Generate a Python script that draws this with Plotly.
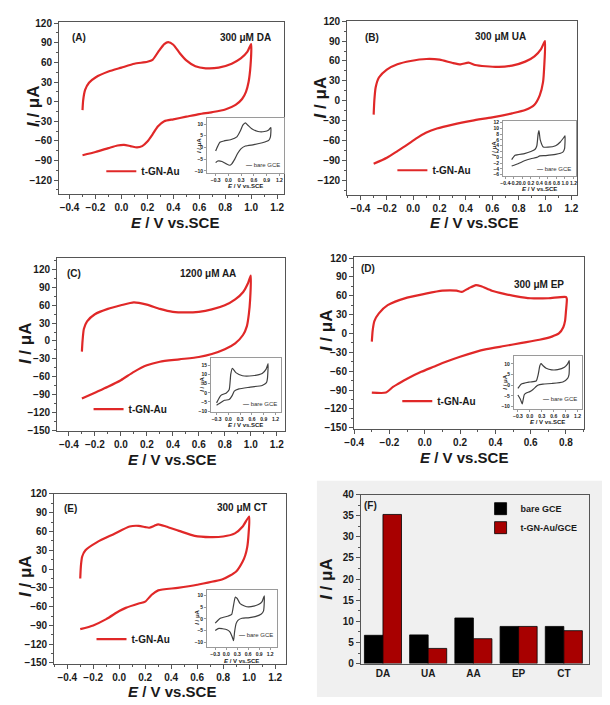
import plotly.graph_objects as go

PAGE_W, PAGE_H = 610, 705
OFF = 8                      # default body margin of the html page
W, H = PAGE_W - OFF, PAGE_H - OFF
FONT = "Liberation Sans"
RED = "#e02828"
GREY = "#404040"
FRAME = "#555555"

# ---------------- data ----------------
# (A) 300 uM DA, t-GN-Au
DA_E = [-0.3, -0.295, -0.28, -0.25, -0.2, -0.1, 0.0, 0.1, 0.2, 0.24, 0.29, 0.33, 0.36, 0.4, 0.45, 0.5, 0.57, 0.65, 0.75, 0.85, 0.92, 0.97, 1.0,
        0.995, 0.98, 0.96, 0.93, 0.88, 0.8, 0.7, 0.6, 0.5, 0.4, 0.33, 0.28, 0.24, 0.2, 0.16, 0.12, 0.07, 0.02, -0.03, -0.1, -0.2, -0.3]
DA_I = [-13, 2, 18, 29, 37, 46, 52, 58, 61, 64, 78, 88, 91, 87, 74, 63, 54, 51, 52, 58, 66, 76, 88,
        55, 30, 15, 4, -5, -12, -16, -19, -23, -27, -30, -38, -50, -61, -68, -70, -68, -66, -67, -71, -77, -82]
# (A) inset, bare GCE
DA_bare_E = [-0.3, -0.2, -0.1, 0.05, 0.2, 0.28, 0.34, 0.4, 0.46, 0.55, 0.7, 0.85, 0.95, 1.0,
             0.99, 0.95, 0.8, 0.6, 0.4, 0.3, 0.22, 0.15, 0.08, 0.03, -0.05, -0.15, -0.25, -0.3]
DA_bare_I = [-1.5, 2.2, 2.8, 3.3, 4.5, 7, 9.5, 10.5, 9.5, 8, 6.8, 6.8, 7.5, 8.5,
             4.5, 3, 2, 1.2, 0.6, -0.5, -2.5, -5, -7, -7.6, -7, -6, -5.8, -6.5]

# (B) 300 uM UA
UA_E = [-0.3, -0.295, -0.285, -0.26, -0.2, -0.12, -0.02, 0.1, 0.2, 0.3, 0.36, 0.42, 0.47, 0.55, 0.65, 0.75, 0.85, 0.92, 0.97, 1.0,
        0.995, 0.985, 0.96, 0.92, 0.85, 0.75, 0.6, 0.45, 0.3, 0.18, 0.1, 0.03, -0.05, -0.12, -0.2, -0.3]
UA_I = [-21, 0, 20, 35, 47, 55, 60, 63, 62, 57, 55, 57.5, 54, 52, 51, 53, 59, 67, 78, 90,
        55, 28, 8, -6, -14, -19, -25, -30, -36, -42, -48, -56, -67, -76, -86, -95]
UA_bare_E = [-0.25, -0.17, 0.05, 0.2, 0.3, 0.34, 0.37, 0.39, 0.42, 0.49, 0.6, 0.78, 0.89, 0.98, 1.0,
             0.99, 0.95, 0.78, 0.55, 0.41, 0.34, 0.2, 0.05, -0.1, -0.25]
UA_bare_I = [-0.8, 0.7, 1.3, 2.0, 2.8, 4, 8, 9.2, 6, 3.6, 3.5, 4, 5.3, 7, 7.4,
             3, 1.8, 1, 0.6, 0.5, 0, -0.5, -1.2, -2.2, -3]

# (C) 1200 uM AA
AA_E = [-0.3, -0.295, -0.285, -0.26, -0.2, -0.1, 0.0, 0.1, 0.2, 0.3, 0.4, 0.5, 0.6, 0.7, 0.8, 0.88, 0.94, 0.98, 1.0,
        0.995, 0.985, 0.97, 0.94, 0.88, 0.8, 0.7, 0.6, 0.45, 0.3, 0.2, 0.1, 0.0, -0.1, -0.2, -0.3]
AA_I = [-18, 0, 20, 33, 45, 54, 60, 65, 61, 54, 49, 48, 49, 53, 60, 70, 82, 98, 110,
        70, 45, 25, 10, -4, -14, -22, -27, -31, -35, -41, -52, -66, -77, -87, -97]
AA_bare_E = [-0.3, -0.19, -0.06, 0.02, 0.06, 0.1, 0.19, 0.36, 0.61, 0.86, 0.96, 1.01,
             0.995, 0.97, 0.86, 0.53, 0.27, 0.15, 0.1, 0.02, -0.1, -0.23, -0.3]
AA_bare_I = [-5.5, -1.4, -0.2, 1.6, 10, 13.4, 11, 9.3, 9.3, 10.5, 12.9, 15.9,
             8, 5.5, 4, 3, 2.1, 0.9, -1.4, -3.7, -4.1, -5.9, -6.8]

# (D) 300 uM EP
EP_E = [-0.3, -0.295, -0.285, -0.26, -0.21, -0.1, 0.0, 0.1, 0.18, 0.21, 0.25, 0.29, 0.32, 0.38, 0.45, 0.52, 0.6, 0.7, 0.8,
        0.805, 0.8, 0.795, 0.785, 0.76, 0.72, 0.65, 0.55, 0.45, 0.35, 0.28, 0.2, 0.12, 0.05, -0.02, -0.1, -0.15, -0.18, -0.22, -0.3]
EP_I = [-13, 5, 20, 32, 45, 57, 63, 68, 68, 66, 72, 77, 75, 68, 63, 59, 56, 56, 58,
        55, 35, 20, 10, 0, -5, -10, -15, -20, -25, -30, -37, -45, -53, -61, -72, -80, -85, -94, -94]
EP_bare_E = [-0.3, -0.22, 0.0, 0.16, 0.21, 0.25, 0.28, 0.34, 0.41, 0.55, 0.7, 0.87, 0.95, 0.99,
             0.985, 0.95, 0.83, 0.55, 0.33, 0.2, 0.16, 0.08, 0.0, -0.09, -0.14, -0.17, -0.19, -0.24, -0.3]
EP_bare_I = [-1.5, 0.5, 1.5, 2, 5, 9, 10.2, 9, 8, 7.2, 7.3, 8.4, 10, 11.5,
             5, 3.2, 1.5, 0.8, 0.5, 0, -0.6, -2, -3, -3.7, -4.5, -7, -8.8, -6.5, -4.6]

# (E) 300 uM CT
CT_E = [-0.3, -0.295, -0.285, -0.26, -0.17, -0.04, 0.08, 0.15, 0.2, 0.23, 0.27, 0.3, 0.36, 0.46, 0.58, 0.7, 0.8, 0.89, 0.95, 1.0,
        0.995, 0.985, 0.97, 0.95, 0.9, 0.8, 0.6, 0.45, 0.3, 0.25, 0.2, 0.15, 0.05, 0.0, -0.1, -0.2, -0.3]
CT_I = [-15, 5, 20, 30, 43, 56, 68, 69, 67, 66, 69, 71.5, 68, 61, 53, 51, 52, 57, 68, 84,
        55, 35, 22, 12, -4, -16, -25, -30, -34, -41, -52, -55, -62, -67, -80, -90, -96]
CT_bare_E = [-0.3, -0.16, 0.06, 0.15, 0.2, 0.25, 0.3, 0.38, 0.5, 0.61, 0.75, 0.88, 0.98, 1.04,
             1.02, 0.95, 0.79, 0.6, 0.43, 0.32, 0.27, 0.23, 0.2, 0.16, 0.1, 0.02, -0.1, -0.2, -0.3]
CT_bare_I = [-1.8, 0.3, 1.3, 2, 5.9, 9.4, 8.8, 6.6, 5.6, 5.2, 5.5, 6.2, 7.5, 10,
             3.5, 2, 1, 0.5, 0.3, -0.6, -2, -5.4, -9.3, -7.5, -5.5, -4.6, -4.2, -4, -4.9]

# (F) peak currents
analytes = ["DA", "UA", "AA", "EP", "CT"]
bare_peak = [6.7, 6.8, 10.8, 8.8, 8.8]
tgn_peak = [35.3, 3.6, 5.9, 8.8, 7.8]

panel_labels = ["(A)", "(B)", "(C)", "(D)", "(E)", "(F)"]
conc_labels = ["300 μM DA", "300 μM UA", "1200 μM AA", "300 μM EP", "300 μM CT"]
series_main = "t-GN-Au"
series_bare = "bare GCE"
bar_names = ["bare GCE", "t-GN-Au/GCE"]

# ---------------- layout helpers (page pixels -> paper fractions) ----------------
def fx(p):
    return (p - OFF) / W

def fy(p):
    return 1 - (p - OFF) / H

main_specs = [
    dict(E=DA_E, I=DA_I, box=(50, 279, 16, 191), xr=[-0.48, 1.25], yr=[-141, 122], yt=(-120, 120),
         leg=(93, 168), lab=(70, 32), conc=(240, 32), xt=(168, 220), ytl=(24, 102)),
    dict(E=UA_E, I=UA_I, box=(344, 578, 15, 192), xr=[-0.5, 1.24], yr=[-142, 120.5], yt=(-120, 120),
         leg=(390, 167), lab=(369, 32), conc=(500, 31), xt=(473, 220), ytl=(317, 93)),
    dict(E=AA_E, I=AA_I, box=(48, 280, 256, 432), xr=[-0.49, 1.26], yr=[-151, 140], yt=(-150, 120),
         leg=(80, 410), lab=(65, 272), conc=(202, 272), xt=(165, 461), ytl=(15, 343)),
    dict(E=EP_E, I=EP_I, box=(351, 586, 255, 430), xr=[-0.4, 0.905], yr=[-151.5, 122], yt=(-150, 120),
         leg=(395, 402), lab=(365, 267), conc=(540, 283), xt=(463, 459), ytl=(323, 330)),
    dict(E=CT_E, I=CT_I, box=(45, 281, 496, 669), xr=[-0.5, 1.28], yr=[-151, 120.5], yt=(-150, 120),
         leg=(83, 644), lab=(62, 511), conc=(237, 510), xt=(165, 697), ytl=(15, 580)),
]

inset_specs = [
    dict(E=DA_bare_E, I=DA_bare_I, box=(201, 279, 114, 170), xr=[-0.5, 1.3], yr=[-11, 12.5], xd=0.3, x0=-0.3, yd=5,
         leg=(277, 162), xt=(240, 183), ytl=(192, 142)),
    dict(E=UA_bare_E, I=UA_bare_I, box=(503, 577, 117, 173), xr=[-0.45, 1.25], yr=[-6.5, 12.5], xd=0.2, x0=-0.4, yd=2,
         leg=(574, 166), xt=(540, 186), ytl=(493, 145)),
    dict(E=AA_bare_E, I=AA_bare_I, box=(205, 276, 358, 413), xr=[-0.44, 1.33], yr=[-10.5, 19], xd=0.3, x0=-0.3, yd=5,
         leg=(274, 405), xt=(240, 426), ytl=(195, 385)),
    dict(E=EP_bare_E, I=EP_bare_I, box=(514, 583, 356, 410), xr=[-0.4, 1.3], yr=[-11.2, 13.7], xd=0.3, x0=-0.3, yd=5,
         leg=(580, 400), xt=(548, 423), ytl=(504, 383)),
    dict(E=CT_bare_E, I=CT_bare_I, box=(201, 272, 594, 652), xr=[-0.52, 1.38], yr=[-12, 12.5], xd=0.3, x0=-0.3, yd=5,
         leg=(270, 640), xt=(236, 666), ytl=(191, 622)),
]

fig = go.Figure()
layout = dict(
    width=W, height=H, margin=dict(l=0, r=0, t=0, b=0),
    paper_bgcolor="white", plot_bgcolor="rgba(255,255,255,0)",
    font=dict(family=FONT, color="#1a1a1a"),
    showlegend=True,
)
annotations = []
shapes = []

# grey background behind panel F
shapes.append(dict(type="rect", xref="paper", yref="paper", x0=fx(313), x1=fx(609), y0=fy(703), y1=fy(483),
                   fillcolor="#f0f0f0", line=dict(width=0), layer="below"))


def axis_common(size, ticklen, color=FRAME, lw=1.3):
    return dict(showline=True, linecolor=color, linewidth=lw, mirror=True, ticks="outside",
                ticklen=ticklen, tickwidth=1, tickcolor=color, showgrid=False, zeroline=False,
                tickangle=0,
                tickfont=dict(size=size, weight="bold", family=FONT, color="#1a1a1a"))


def text_ann(text, pos, size, angle=0, xanchor="center", color=None):
    f = dict(size=size)
    if color:
        f["color"] = color
    return dict(text=text, x=fx(pos[0]), y=fy(pos[1]), xref="paper", yref="paper", showarrow=False,
                xanchor=xanchor, yanchor="middle", textangle=angle, font=f)


for k, s in enumerate(main_specs):
    n = k + 1
    xa = "xaxis" if n == 1 else f"xaxis{n}"
    ya = "yaxis" if n == 1 else f"yaxis{n}"
    xr_ = "x" if n == 1 else f"x{n}"
    yr_ = "y" if n == 1 else f"y{n}"
    x0, x1, y0, y1 = s["box"]
    layout[xa] = dict(domain=[fx(x0), fx(x1)], range=s["xr"], anchor=yr_, tick0=-0.4, dtick=0.2, tickformat=".1f",
                      minor=dict(ticks="outside", ticklen=2, dtick=0.1, tick0=-0.4, tickcolor=FRAME, showgrid=False),
                      **axis_common(10, 4))
    layout[ya] = dict(domain=[fy(y1), fy(y0)], range=s["yr"], anchor=xr_,
                      tickvals=list(range(s["yt"][0], s["yt"][1] + 1, 30)),
                      minor=dict(ticks="outside", ticklen=2, dtick=15, tick0=0, tickcolor=FRAME, showgrid=False),
                      **axis_common(10, 4))
    lg = "legend" if n == 1 else f"legend{n}"
    fig.add_trace(go.Scatter(x=s["E"], y=s["I"], mode="lines", name=series_main, xaxis=xr_, yaxis=yr_,
                             line=dict(color=RED, width=2.2, shape="spline", smoothing=0.6), legend=lg))
    layout[lg] = dict(x=fx(s["leg"][0]), y=fy(s["leg"][1]), xanchor="left", yanchor="middle",
                      bgcolor="rgba(0,0,0,0)", font=dict(size=10, weight="bold", family=FONT),
                      itemwidth=30, tracegroupgap=0)
    annotations.append(text_ann(f"<b>{panel_labels[k]}</b>", s["lab"], 10))
    annotations.append(text_ann(f"<b>{conc_labels[k]}</b>", s["conc"], 10))
    annotations.append(text_ann("<b><i>E</i> / V vs.SCE</b>", s["xt"], 15))
    annotations.append(text_ann("<b><i>I</i> / μA</b>", s["ytl"], 17, angle=-90))

# panel F (bars)
fx6 = axis_common(10, 4)
fx6["ticks"] = ""
layout["xaxis6"] = dict(domain=[fx(358), fx(591)], range=[-0.485, 4.565], anchor="y6", type="category", **fx6)
layout["yaxis6"] = dict(domain=[fy(669), fy(497)], range=[0, 40], anchor="x6", tick0=0, dtick=5,
                        minor=dict(ticks="outside", ticklen=2, dtick=2.5, tickcolor=FRAME, showgrid=False),
                        **axis_common(10, 4))
fig.add_trace(go.Bar(x=analytes, y=bare_peak, name=bar_names[0], xaxis="x6", yaxis="y6", legend="legend6",
                     marker=dict(color="#000000", line=dict(color="#000000", width=0.8))))
fig.add_trace(go.Bar(x=analytes, y=tgn_peak, name=bar_names[1], xaxis="x6", yaxis="y6", legend="legend6",
                     marker=dict(color="#a80000", line=dict(color="#000000", width=0.8))))
layout["barmode"] = "group"
layout["bargap"] = 0.18
layout["bargroupgap"] = 0
layout["legend6"] = dict(x=fx(480), y=fy(521), xanchor="left", yanchor="middle", bgcolor="rgba(0,0,0,0)",
                         font=dict(size=9, weight="bold", family=FONT), itemwidth=30, tracegroupgap=0)
annotations.append(text_ann(f"<b>{panel_labels[5]}</b>", (368, 508), 10))
annotations.append(text_ann("<b><i>I</i> / μA</b>", (322, 583), 17, angle=-90))

# insets
for k, s in enumerate(inset_specs):
    n = k + 7
    x0, x1, y0, y1 = s["box"]
    shapes.append(dict(type="rect", xref="paper", yref="paper", x0=fx(x0 - 11), x1=fx(x1 + 3),
                       y0=fy(y1 + 18), y1=fy(y0 - 2), fillcolor="white", line=dict(width=0), layer="below"))
    ic = axis_common(5, 2, color="#9a9a9a", lw=1)
    layout[f"xaxis{n}"] = dict(domain=[fx(x0), fx(x1)], range=s["xr"], anchor=f"y{n}", tick0=s["x0"],
                               dtick=s["xd"], tickformat=".1f", **ic)
    layout[f"yaxis{n}"] = dict(domain=[fy(y1), fy(y0)], range=s["yr"], anchor=f"x{n}", tick0=0,
                               dtick=s["yd"], **ic)
    fig.add_trace(go.Scatter(x=s["E"], y=s["I"], mode="lines", name=series_bare, xaxis=f"x{n}", yaxis=f"y{n}",
                             showlegend=False, line=dict(color=GREY, width=1.2, shape="spline", smoothing=0.5)))
    annotations.append(text_ann("<b>—</b> " + series_bare, s["leg"], 6, xanchor="right", color="#333"))
    annotations.append(text_ann("<b><i>E</i> / V vs.SCE</b>", s["xt"], 6))
    annotations.append(text_ann("<b><i>I</i> / μA</b>", s["ytl"], 6, angle=-90))

layout["annotations"] = annotations
layout["shapes"] = shapes
fig.update_layout(**layout)
fig.write_html("out.html")
